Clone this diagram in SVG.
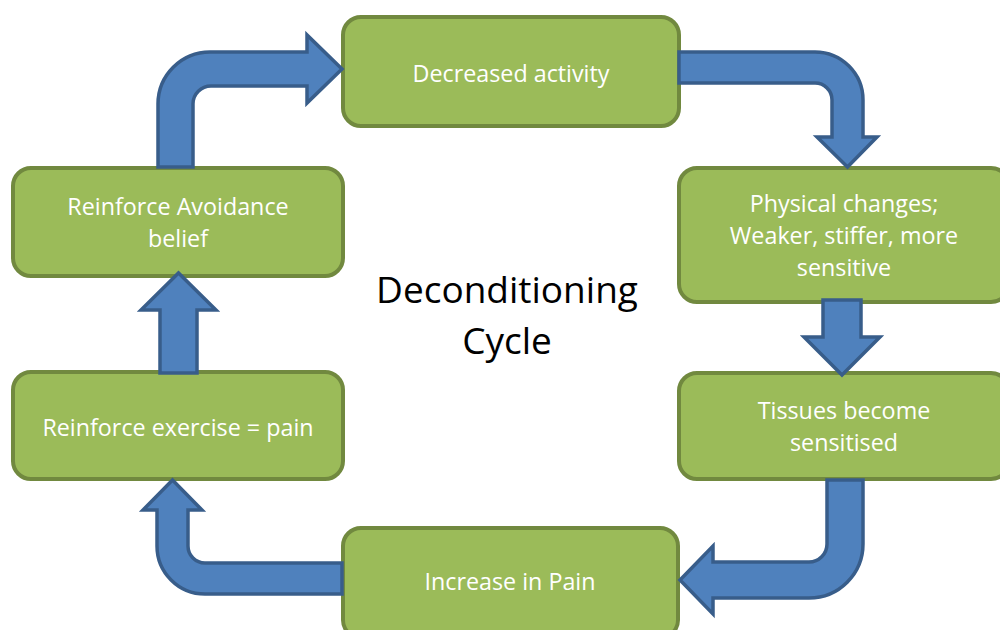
<svg xmlns="http://www.w3.org/2000/svg" width="1000" height="630" viewBox="0 0 1000 630">
<style>
.box{fill:#9BBB59;stroke:#71893F;stroke-width:4}
.lbl{font-family:"Open Sans","Liberation Sans",sans-serif;font-size:23.3px;fill:#FFFFFF;text-anchor:middle}
.arr{fill:#4F81BD;stroke:#385D8A;stroke-width:3.5;stroke-linejoin:miter}
.title{font-family:"Open Sans","Liberation Sans",sans-serif;font-size:37px;fill:#000000;text-anchor:middle}
</style>
<rect width="1000" height="630" fill="#FFFFFF"/>
<g id="node-decreased">
<rect class="box" x="343" y="17" width="336" height="109" rx="18"/>
<text class="lbl" x="511" y="82">Decreased activity</text>
</g>
<g id="node-physical">
<rect class="box" x="679" y="168" width="330" height="134" rx="18"/>
<text class="lbl" x="844" y="212">Physical changes;</text>
<text class="lbl" x="844" y="244">Weaker, stiffer, more</text>
<text class="lbl" x="844" y="276">sensitive</text>
</g>
<g id="node-tissues">
<rect class="box" x="679" y="373" width="330" height="106" rx="18"/>
<text class="lbl" x="844" y="419">Tissues become</text>
<text class="lbl" x="844" y="451">sensitised</text>
</g>
<g id="node-pain">
<rect class="box" x="343" y="528" width="335" height="110" rx="18"/>
<text class="lbl" x="510" y="590">Increase in Pain</text>
</g>
<g id="node-exercise">
<rect class="box" x="13" y="372" width="330" height="107" rx="18"/>
<text class="lbl" x="178" y="436">Reinforce exercise = pain</text>
</g>
<g id="node-avoidance">
<rect class="box" x="13" y="168" width="330" height="108" rx="18"/>
<text class="lbl" x="178" y="215">Reinforce Avoidance</text>
<text class="lbl" x="178" y="247">belief</text>
</g>
<g id="connectors">
<path class="arr" d="M158,167 L158,104 A52,52 0 0 1 210,52 L307,52 L307,35 L342,69 L307,103 L307,86 L211,86 A18,18 0 0 0 193,104 L193,167 Z"/>
<path class="arr" d="M679,52 L815,52 A48,48 0 0 1 863,100 L863,137 L877,137 L847.5,167 L817,137 L832,137 L832,100 A17,17 0 0 0 815,83 L679,83 Z"/>
<path class="arr" d="M823,300 L861,300 L861,337 L880,337 L842,375 L804,337 L823,337 Z"/>
<path class="arr" d="M827,480 L863,480 L863,544 A54,54 0 0 1 809,598 L713,598 L713,614 L680,580 L713,546 L713,562 L809,562 A18,18 0 0 0 827,544 Z"/>
<path class="arr" d="M342,563 L342,594 L205,594 A48,48 0 0 1 157,546 L157,510 L143,510 L172.5,480 L202,510 L188,510 L188,546 A17,17 0 0 0 205,563 Z"/>
<path class="arr" d="M160,373 L160,310 L141,310 L178.5,273 L216,310 L197,310 L197,373 Z"/>
</g>
<g id="title">
<text class="title" x="507" y="303">Deconditioning</text>
<text class="title" x="507" y="354">Cycle</text>
</g>
</svg>
